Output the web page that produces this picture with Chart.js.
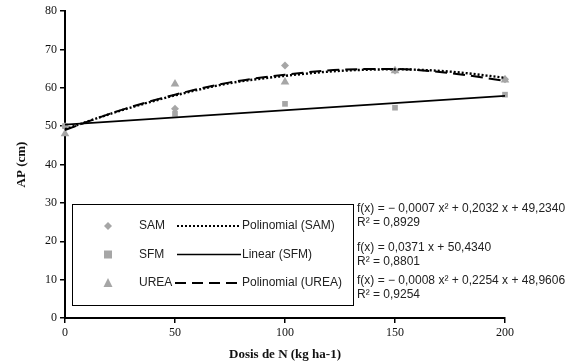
<!DOCTYPE html>
<html>
<head>
<meta charset="utf-8">
<script src="https://cdn.jsdelivr.net/npm/chart.js@4/dist/chart.umd.min.js"></script>
<style>
  html,body{margin:0;padding:0;background:#fff;}
  #wrap{width:574px;height:362px;position:relative;}
</style>
</head>
<body>
<div id="wrap"><canvas id="c" width="574" height="362"></canvas></div>
<script>
// doses (kg N / ha)
const doses = [0, 50, 100, 150, 200];
const sam  = [50.0, 54.5, 65.8, 64.5, 62.2];
const sfm  = [50.0, 53.2, 55.8, 54.8, 58.2];
const urea = [48.0, 61.0, 61.5, 64.4, 62.0];

// trend curves, every 25 kg
const trendX    = [0, 25, 50, 75, 100, 125, 150, 175, 200];
const trendSam  = [49.2, 54.0, 58.0, 61.2, 63.1, 64.4, 64.8, 64.2, 62.6];
const trendUrea = [49.0, 54.1, 58.2, 61.4, 63.4, 64.7, 64.9, 63.8, 61.8];
const linX   = [0, 200];
const linSfm = [50.4, 57.9];

const yTicks = [0, 10, 20, 30, 40, 50, 60, 70, 80];
const xTicks = [0, 50, 100, 150, 200];

const legendRows = [
  {mark:'rectRot', name:'SAM',  dash:[2,2],  fit:'Polinomial (SAM)'},
  {mark:'rect',    name:'SFM',  dash:[],     fit:'Linear (SFM)'},
  {mark:'triangle',name:'UREA', dash:[11,6], fit:'Polinomial (UREA)'}
];
const equations = [
  ['f(x) = \u2212 0,0007 x\u00B2 + 0,2032 x + 49,2340', 'R\u00B2 = 0,8929'],
  ['f(x) = 0,0371 x + 50,4340', 'R\u00B2 = 0,8801'],
  ['f(x) = \u2212 0,0008 x\u00B2 + 0,2254 x + 48,9606', 'R\u00B2 = 0,9254']
];

const GRAY = '#a6a6a6';
const pts = (xs, ys) => xs.map((x,i)=>({x, y: ys[i]}));

function pointSet(label, ys, style, r){
  return {label, data: pts(doses, ys), showLine:false, pointStyle: style, clip:false,
    pointRadius: r, pointBackgroundColor: GRAY, pointBorderColor: GRAY, borderWidth:0, order:2};
}
function lineSet(label, xs, ys, dash, w){
  return {label, data: pts(xs, ys), showLine:true, pointRadius:0, borderColor:'#000', clip:false,
    borderWidth: w, borderDash: dash, tension:0.4, cubicInterpolationMode:'monotone', fill:false, order:1};
}

const legendBox = {
  id:'legendBox',
  afterDraw(chart){
    const ctx = chart.ctx;
    ctx.save();
    ctx.strokeStyle = '#000'; ctx.lineWidth = 1;
    ctx.strokeRect(72.5, 204.5, 281, 101);
    ctx.font = '12px "Liberation Sans", Arial, sans-serif';
    ctx.textBaseline = 'middle';
    legendRows.forEach((r,i)=>{
      const y = 226 + i*28.5;
      ctx.fillStyle = GRAY;
      if(r.mark==='rectRot'){ctx.beginPath();ctx.moveTo(108,y-4);ctx.lineTo(112,y);ctx.lineTo(108,y+4);ctx.lineTo(104,y);ctx.closePath();ctx.fill();}
      else if(r.mark==='rect'){ctx.fillRect(104,y-4,8,8);}
      else {ctx.beginPath();ctx.moveTo(108,y-5);ctx.lineTo(112.5,y+4);ctx.lineTo(103.5,y+4);ctx.closePath();ctx.fill();}
      ctx.fillStyle = '#222';
      ctx.fillText(r.name, 139, y);
      ctx.strokeStyle = '#000';
      ctx.lineWidth = r.dash.length ? 2 : 1.5;
      ctx.setLineDash(r.dash);
      ctx.beginPath();
      const x0 = r.name==='UREA' ? 175 : 177;
      ctx.moveTo(x0, y); ctx.lineTo(241, y); ctx.stroke();
      ctx.setLineDash([]);
      ctx.fillText(r.fit, 242, y);
    });
    ctx.font = '12px "Liberation Sans", Arial, sans-serif';
    ctx.fillStyle = '#222';
    const ey = [209, 248, 281];
    const k = 210 / ctx.measureText(equations[0][0]).width;
    equations.forEach((e,i)=>{
      const w = ctx.measureText(e[0]).width;
      ctx.fillText(e[0], 357, ey[i], Math.min(w, w * k));
      const w2 = ctx.measureText(e[1]).width;
      ctx.fillText(e[1], 357, ey[i]+13.5, Math.min(w2, w2 * k));
    });
    ctx.restore();
  }
};

new Chart(document.getElementById('c'), {
  type:'scatter',
  data:{ datasets:[
    pointSet('SAM', sam, 'rectRot', 4),
    pointSet('SFM', sfm, 'rect', 4),
    pointSet('UREA', urea, 'triangle', 5),
    lineSet('Polinomial (SAM)', trendX, trendSam, [2,2], 2.4),
    lineSet('Linear (SFM)', linX, linSfm, [], 1.8),
    lineSet('Polinomial (UREA)', trendX, trendUrea, [12,6], 2)
  ]},
  options:{
    responsive:false, animation:false,
    layout:{padding:{top:11, right:69, left:14, bottom:0}},
    plugins:{legend:{display:false}, tooltip:{enabled:false}},
    scales:{
      x:{type:'linear', min:0, max:200,
        afterBuildTicks: s => { s.ticks = xTicks.map(v=>({value:v})); },
        afterFit: s => { s.height = 44; },
        border:{color:'#000', width:2},
        grid:{display:true, drawOnChartArea:false, color:'#000', lineWidth:1.5, tickLength:5},
        ticks:{color:'#111', font:{family:'"Liberation Serif", "Times New Roman", serif', size:12}, padding:3},
        title:{display:true, text:'Dosis de N (kg ha-1)', color:'#111', padding:{top:0,bottom:0},
          font:{family:'"Liberation Serif", "Times New Roman", serif', size:13, weight:'bold'}}
      },
      y:{type:'linear', min:0, max:80,
        afterBuildTicks: s => { s.ticks = yTicks.map(v=>({value:v})); },
        afterFit: s => { s.width = 51; },
        border:{color:'#000', width:2},
        grid:{display:true, drawOnChartArea:false, color:'#000', lineWidth:1.5, tickLength:5},
        ticks:{color:'#111', font:{family:'"Liberation Serif", "Times New Roman", serif', size:12}, padding:3},
        title:{display:true, text:'AP (cm)', color:'#111', padding:{top:0,bottom:6},
          font:{family:'"Liberation Serif", "Times New Roman", serif', size:13, weight:'bold'}}
      }
    }
  },
  plugins:[legendBox]
});
</script>
</body>
</html>
